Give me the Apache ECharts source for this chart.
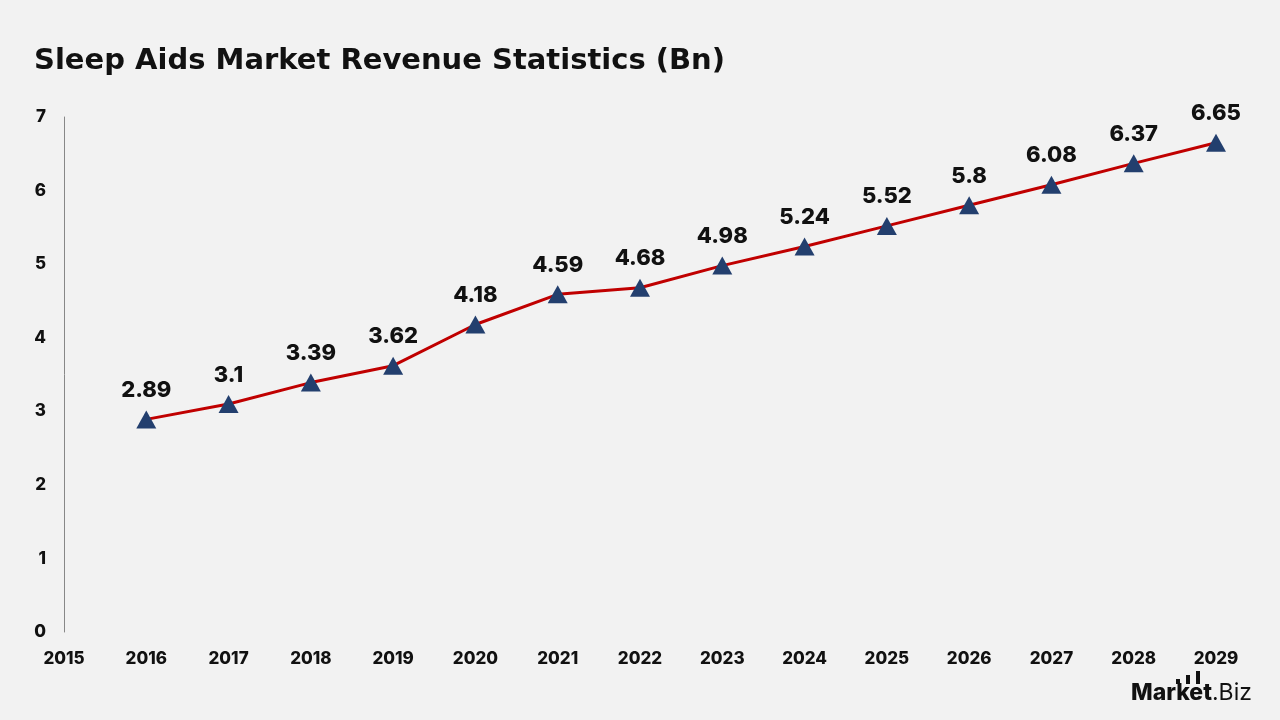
<!DOCTYPE html>
<html>
<head>
<meta charset="utf-8">
<title>Sleep Aids Market Revenue Statistics</title>
<script src="https://cdn.jsdelivr.net/npm/echarts@6/dist/echarts.min.js"></script>
<style>
  html, body { margin: 0; padding: 0; background: #f2f2f2; }
  #main { width: 1280px; height: 720px; }
</style>
</head>
<body>
<div id="main"></div>
<script>
// 数据
var years = [2016, 2017, 2018, 2019, 2020, 2021, 2022, 2023, 2024, 2025, 2026, 2027, 2028, 2029];
var revenue = [2.89, 3.1, 3.39, 3.62, 4.18, 4.59, 4.68, 4.98, 5.24, 5.52, 5.8, 6.08, 6.37, 6.65];
var yTicks = [0, 1, 2, 3, 4, 5, 6, 7];

var points = [];
for (var i = 0; i < years.length; i++) {
  points.push([years[i], revenue[i]]);
}

var myChart = echarts.init(document.getElementById('main'));

var fontFam = 'Inter, "Open Sans", sans-serif';

var option = {
  backgroundColor: '#f2f2f2',
  title: {
    text: 'Sleep Aids Market Revenue Statistics (Bn)',
    left: 29,
    top: 42,
    textStyle: { fontFamily: '"DejaVu Sans", sans-serif', fontSize: 29, fontWeight: 'bold', color: '#111' }
  },
  grid: { left: 64, right: 64, top: 117, bottom: 88, containLabel: false },
  xAxis: {
    type: 'value',
    min: 2015,
    max: 2029,
    interval: 1,
    axisLine: { show: false },
    axisTick: { show: false },
    splitLine: { show: false },
    axisLabel: {
      margin: 18,
      fontFamily: fontFam, fontSize: 17, fontWeight: 800, color: '#111',
      formatter: function (v) { return '' + v; }
    }
  },
  yAxis: {
    type: 'value',
    min: yTicks[0],
    max: yTicks[yTicks.length - 1],
    interval: 1,
    axisLine: { show: true, lineStyle: { color: '#888', width: 1 } },
    axisTick: { show: false },
    splitLine: { show: false },
    axisLabel: {
      margin: 18,
      fontFamily: fontFam, fontSize: 17, fontWeight: 800, color: '#111'
    }
  },
  series: [{
    type: 'line',
    data: points,
    symbol: 'triangle',
    symbolSize: [20, 18],
    itemStyle: { color: '#233f6e' },
    lineStyle: { color: '#c00000', width: 3 },
    label: {
      show: true,
      position: 'top',
      distance: 9,
      fontFamily: fontFam, fontSize: 22, fontWeight: 800, color: '#111',
      formatter: function (p) { return '' + p.value[1]; }
    },
    z: 3
  }],
  graphic: [
    {
      type: 'text',
      left: 1131,
      top: 682,
      style: {
        text: '{a|Market}{b|.Biz}',
        rich: {
          a: { fontFamily: fontFam, fontSize: 23, fontWeight: 800, fill: '#111' },
          b: { fontFamily: fontFam, fontSize: 23, fontWeight: 'normal', fill: '#111' }
        }
      }
    },
    // logo 柱形
    { type: 'rect', shape: { x: 1176, y: 679, width: 4, height: 5 }, style: { fill: '#111' } },
    { type: 'rect', shape: { x: 1186, y: 675, width: 4, height: 9 }, style: { fill: '#111' } },
    { type: 'rect', shape: { x: 1196, y: 671, width: 4, height: 13 }, style: { fill: '#111' } }
  ]
};

myChart.setOption(option);
</script>
</body>
</html>
